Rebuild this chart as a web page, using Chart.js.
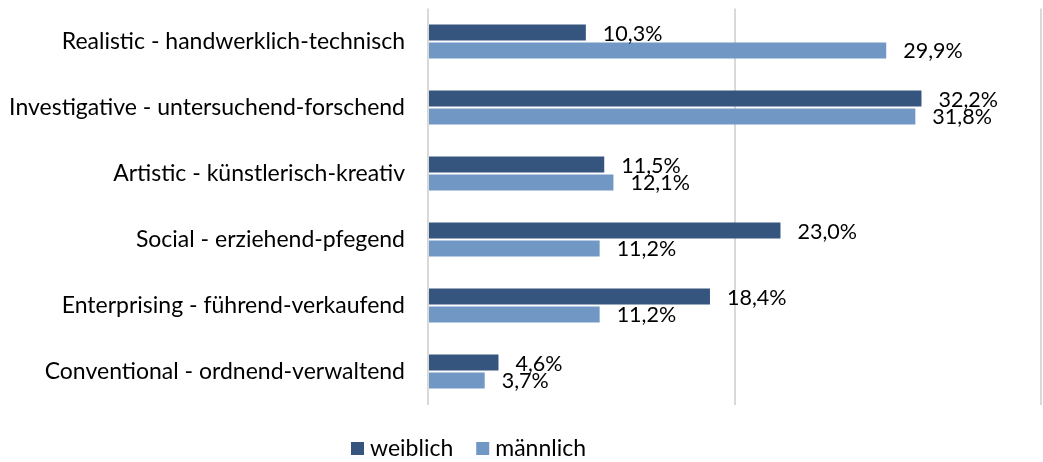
<!DOCTYPE html>
<html><head><meta charset="utf-8">
<script src="https://cdn.jsdelivr.net/npm/chart.js@4/dist/chart.umd.min.js"></script>
<style>html,body{margin:0;padding:0;background:#fff}#wrap{width:1043px;height:462px}</style>
</head><body><div id="wrap"><canvas id="c" width="1043" height="462"></canvas></div>
<script>
const categories = ["Realistic - handwerklich-technisch","Investigative - untersuchend-forschend","Artistic - künstlerisch-kreativ","Social - erziehend-pfegend","Enterprising - führend-verkaufend","Conventional - ordnend-verwaltend"];
const weiblich = [10.3, 32.2, 11.5, 23.0, 18.4, 4.6];
const maennlich = [29.9, 31.8, 12.1, 11.2, 11.2, 3.7];
const seriesNames = ["weiblich","männlich"];
const FONT = "Lato";
const fmt = v => v.toFixed(1).replace('.', ',') + '%';

const labelPlugin = {
  id:'vals',
  afterDatasetsDraw(chart){
    const ctx = chart.ctx;
    ctx.save();
    ctx.font = "21.5px " + FONT;
    ctx.fillStyle = "#000";
    ctx.textBaseline = "middle";
    ctx.textAlign = "left";
    chart.data.datasets.forEach((ds,i)=>{
      chart.getDatasetMeta(i).data.forEach((bar,j)=>{
        ctx.fillText(fmt(ds.data[j]), bar.x + 17, bar.y + 1);
      });
    });
    ctx.restore();
  }
};
const legendPlugin = {
  id:'leg',
  afterDraw(chart){
    const ctx = chart.ctx;
    ctx.save();
    ctx.font = "23px " + FONT;
    ctx.textBaseline = "middle";
    let x = 351; const y = 449;
    chart.data.datasets.forEach((ds)=>{
      ctx.fillStyle = ds.backgroundColor;
      ctx.fillRect(x, y-7, 13, 13);
      ctx.fillStyle = "#000";
      ctx.fillText(ds.label, x+19, y);
      x += 19 + ctx.measureText(ds.label).width + 23;
    });
    ctx.restore();
  }
};

new Chart(document.getElementById('c'), {
  type:'bar',
  data:{
    labels: categories,
    datasets:[
      {label: seriesNames[0], data: weiblich, backgroundColor:'#35557F'},
      {label: seriesNames[1], data: maennlich, backgroundColor:'#7197C5'}
    ]
  },
  options:{
    indexAxis:'y',
    responsive:false,
    animation:false,
    devicePixelRatio:1,
    categoryPercentage:0.54,
    barPercentage:0.9,
    layout:{padding:{top:8.5,bottom:57.5,right:2,left:0}},
    plugins:{legend:{display:false},tooltip:{enabled:false}},
    scales:{
      x:{min:0,max:40,ticks:{display:false,stepSize:20},
         grid:{color:'#D9D9D9',lineWidth:2,drawTicks:false},border:{display:false}},
      y:{ticks:{color:'#000',font:{family:FONT,size:23},padding:23},
         grid:{display:false,drawTicks:false},border:{display:false},
         afterFit(s){ s.width = 428; s.paddingTop = 0; s.paddingBottom = 0; }}
    }
  },
  plugins:[labelPlugin, legendPlugin]
});
</script></body></html>
